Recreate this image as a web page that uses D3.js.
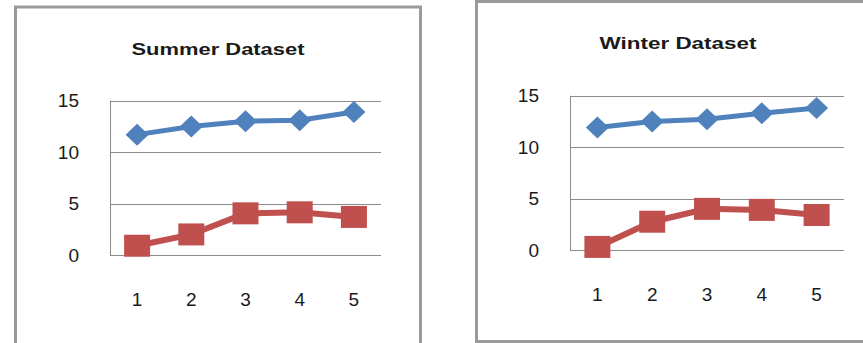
<!DOCTYPE html>
<html>
<script src="https://d3js.org/d3.v7.min.js"></script>
<style>
    body {
        margin: 0;
        background: white;
    }

    text {
        font-family: "Liberation Sans", Arial, sans-serif;
        fill: #1a1a1a;
    }
</style>

<body>
</body>
<script>
    const width = 863,
        height = 343;

    // data
    const categories = [1, 2, 3, 4, 5];
    const yTicks = [0, 5, 10, 15];
    const titles = ["Summer Dataset", "Winter Dataset"];
    const summerBlue = [11.7, 12.5, 13.0, 13.1, 13.9];
    const summerRed = [0.9, 2.0, 4.05, 4.15, 3.7];
    const winterBlue = [11.9, 12.5, 12.7, 13.3, 13.8];
    const winterRed = [0.3, 2.75, 4.0, 3.9, 3.4];

    const blue = "#4f81bd",
        red = "#c0504d";

    const svg = d3.select("body").append("svg").attr("width", width).attr("height", height);

    const panels = [
        { title: titles[0], blue: summerBlue, red: summerRed,
          box: [15.5, 7, 405, 360], plot: [110, 381, 100.7, 255], tx: 218, ty: 55, tlen: 173 },
        { title: titles[1], blue: winterBlue, red: winterRed,
          box: [476.5, 1.5, 420, 340], plot: [570, 844, 95.7, 250], tx: 678, ty: 49, tlen: 157 }
    ];

    panels.forEach(p => {
        const g = svg.append("g");
        g.append("rect")
            .attr("x", p.box[0]).attr("y", p.box[1])
            .attr("width", p.box[2]).attr("height", p.box[3])
            .attr("fill", "white")
            .attr("stroke", "#9a9a9a")
            .attr("stroke-width", 3);

        g.append("text")
            .attr("x", p.tx)
            .attr("y", p.ty)
            .attr("text-anchor", "middle")
            .attr("font-size", 17)
            .attr("font-weight", "bold")
            .attr("textLength", p.tlen)
            .attr("lengthAdjust", "spacingAndGlyphs")
            .text(p.title);

        const x = d3.scaleBand().domain(categories).range([p.plot[0], p.plot[1]]);
        const y = d3.scaleLinear().domain([0, 15]).range([p.plot[3], p.plot[2]]);
        const cx = d => x(d) + x.bandwidth() / 2;

        // gridlines
        g.selectAll(".grid")
            .data(yTicks)
            .join("line")
            .attr("x1", p.plot[0]).attr("x2", p.plot[1])
            .attr("y1", d => Math.round(y(d)) + 0.5).attr("y2", d => Math.round(y(d)) + 0.5)
            .attr("stroke", "#8c8c8c")
            .attr("stroke-width", 1);
        g.append("line")
            .attr("x1", p.plot[0] + 0.5).attr("x2", p.plot[0] + 0.5)
            .attr("y1", y(15)).attr("y2", y(0))
            .attr("stroke", "#8c8c8c");

        const yAxis = g.append("g")
            .attr("transform", `translate(${p.plot[0] - 28},0)`)
            .call(d3.axisLeft(y).tickValues(yTicks).tickSize(0).tickFormat(d => d));
        yAxis.select(".domain").remove();
        yAxis.selectAll("text").attr("font-size", 19).attr("font-family", "Liberation Sans").attr("fill", "#1a1a1a");

        const xAxis = g.append("g")
            .attr("transform", `translate(0,${p.plot[3] + 34})`)
            .call(d3.axisBottom(x).tickSize(0).tickFormat(d => d));
        xAxis.select(".domain").remove();
        xAxis.selectAll("text").attr("font-size", 19).attr("font-family", "Liberation Sans").attr("fill", "#1a1a1a");

        const line = d3.line().x((d, i) => cx(categories[i])).y(d => y(d));

        g.append("path")
            .datum(p.blue)
            .attr("fill", "none")
            .attr("stroke", blue)
            .attr("stroke-width", 5)
            .attr("d", line);
        g.selectAll(".diamond")
            .data(p.blue)
            .join("path")
            .attr("fill", blue)
            .attr("d", (d, i) => {
                const px = cx(categories[i]), py = y(d);
                return `M${px},${py - 11}L${px + 11.5},${py}L${px},${py + 11}L${px - 11.5},${py}Z`;
            });

        g.append("path")
            .datum(p.red)
            .attr("fill", "none")
            .attr("stroke", red)
            .attr("stroke-width", 6)
            .attr("d", line);
        g.selectAll(".square")
            .data(p.red)
            .join("rect")
            .attr("fill", red)
            .attr("x", (d, i) => cx(categories[i]) - 13)
            .attr("y", d => y(d) - 11)
            .attr("width", 26)
            .attr("height", 22);
    });
</script>

</html>
